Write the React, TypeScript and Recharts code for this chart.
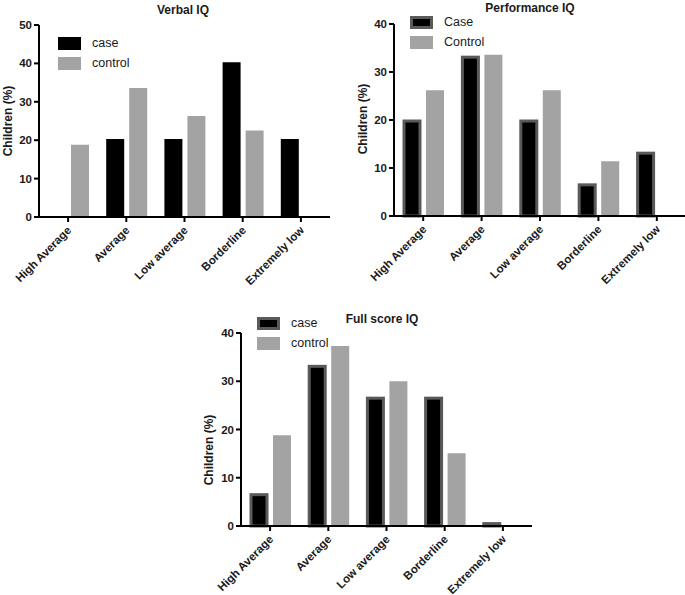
import React from 'react';
import { BarChart, Bar, XAxis, YAxis, Legend } from 'recharts';

const categories = ['High Average', 'Average', 'Low average', 'Borderline', 'Extremely low'];

const verbalCase = [0, 20.3, 20.3, 40.3, 20.3];
const verbalControl = [18.8, 33.6, 26.3, 22.5, 0];

const perfCase = [20, 33.3, 20, 6.7, 13.3];
const perfControl = [26.2, 33.6, 26.2, 11.4, 0];

const fullCase = [6.7, 33.3, 26.7, 26.7, 0.7];
const fullControl = [18.8, 37.3, 30, 15.1, 0];

const verbalTicks = [0, 10, 20, 30, 40, 50];
const perfTicks = [0, 10, 20, 30, 40];
const fullTicks = [0, 10, 20, 30, 40];

const FONT = '"Liberation Sans", Arial, Helvetica, sans-serif';
const CONTROL_COLOR = '#a3a3a3';
const CASE_STROKE = '#5a5a5a';

const build = (c: number[], k: number[]) =>
  categories.map((name, i) => ({ name, case: c[i], control: k[i] }));

const XTick = (props: any) => {
  const { x, y, payload } = props;
  const ax = x + 4;
  const ay = y + 7;
  return (
    <text
      x={ax}
      y={ay}
      textAnchor="end"
      transform={`rotate(-45 ${ax} ${ay})`}
      fontFamily={FONT}
      fontWeight="bold"
      fontSize={11.5}
      fill="#1a1a1a"
    >
      {payload.value}
    </text>
  );
};

const YTick = (props: any) => {
  const { x, y, payload } = props;
  return (
    <text
      x={x}
      y={y}
      dy={4}
      textAnchor="end"
      fontFamily={FONT}
      fontWeight="bold"
      fontSize={11.5}
      fill="#1a1a1a"
    >
      {payload.value}
    </text>
  );
};

const StrokedBar = (props: any) => {
  const { x, y, width, height } = props;
  if (!height || height <= 0) return null;
  return (
    <rect
      x={x + 1}
      y={y + 1}
      width={Math.max(width - 2, 0)}
      height={Math.max(height - 1, 0)}
      fill="#000"
      stroke={CASE_STROKE}
      strokeWidth={3}
    />
  );
};

const LegendBox = ({ labels, stroked }: { labels: [string, string]; stroked: boolean }) => (
  <div style={{ fontFamily: FONT, fontSize: 12.5, color: '#1a1a1a' }}>
    {labels.map((lab, i) => (
      <div key={lab} style={{ display: 'flex', alignItems: 'center', height: 20 }}>
        <div
          style={{
            width: i === 0 && stroked ? 17 : 23,
            height: i === 0 && stroked ? 7 : 13,
            background: i === 0 ? '#000' : CONTROL_COLOR,
            border: i === 0 && stroked ? `3px solid ${CASE_STROKE}` : 'none',
            marginRight: 11,
          }}
        />
        <span>{lab}</span>
      </div>
    ))}
  </div>
);

type ChartProps = {
  left: number;
  top: number;
  width: number;
  height: number;
  margin: { top: number; right: number; bottom: number; left: number };
  xHeight: number;
  yWidth: number;
  data: any[];
  ticks: number[];
  stroked: boolean;
  title: string;
  titleX: number;
  titleY: number;
  yLabelX: number;
  yLabelY: number;
  legendLeft: number;
  legendTop: number;
  labels: [string, string];
};

const IQChart = (p: ChartProps) => (
  <div style={{ position: 'absolute', left: p.left, top: p.top, width: p.width, height: p.height }}>
    <BarChart
      width={p.width}
      height={p.height}
      data={p.data}
      margin={p.margin}
      barSize={18}
      barGap={5}
    >
      <XAxis
        dataKey="name"
        height={p.xHeight}
        interval={0}
        tick={XTick}
        axisLine={{ stroke: '#000', strokeWidth: 2 }}
        tickLine={{ stroke: '#000', strokeWidth: 2 }}
        tickSize={5}
      />
      <YAxis
        width={p.yWidth}
        domain={[0, p.ticks[p.ticks.length - 1]]}
        ticks={p.ticks}
        interval={0}
        tick={YTick}
        axisLine={{ stroke: '#000', strokeWidth: 2 }}
        tickLine={{ stroke: '#000', strokeWidth: 2 }}
        tickSize={5}
      />
      <Legend
        layout="horizontal"
        verticalAlign="middle"
        align="center"
        wrapperStyle={{ left: p.legendLeft, top: p.legendTop, width: 'auto' }}
        content={() => <LegendBox labels={p.labels} stroked={p.stroked} />}
      />
      <Bar
        dataKey="case"
        fill="#000"
        isAnimationActive={false}
        shape={p.stroked ? StrokedBar : undefined}
      />
      <Bar dataKey="control" fill={CONTROL_COLOR} isAnimationActive={false} />
    </BarChart>
    <div
      style={{
        position: 'absolute',
        left: p.titleX - 100,
        top: p.titleY - 8,
        width: 200,
        textAlign: 'center',
        fontFamily: FONT,
        fontWeight: 'bold',
        fontSize: 12,
        lineHeight: '16px',
        color: '#1a1a1a',
      }}
    >
      {p.title}
    </div>
    <div
      style={{
        position: 'absolute',
        left: p.yLabelX - 60,
        top: p.yLabelY - 8,
        width: 120,
        height: 16,
        textAlign: 'center',
        fontFamily: FONT,
        fontWeight: 'bold',
        fontSize: 12,
        lineHeight: '16px',
        color: '#1a1a1a',
        transform: 'rotate(-90deg)',
      }}
    >
      Children (%)
    </div>
  </div>
);

export default function App() {
  return (
    <div
      style={{
        position: 'absolute',
        left: 0,
        top: 0,
        width: 685,
        height: 595,
        overflow: 'hidden',
        background: '#fff',
      }}
    >
      <IQChart
        left={0}
        top={0}
        width={340}
        height={300}
        margin={{ top: 25, right: 10, bottom: 8, left: 9 }}
        yWidth={30}
        xHeight={75}
        data={build(verbalCase, verbalControl)}
        ticks={verbalTicks}
        stroked={false}
        title="Verbal IQ"
        titleX={183}
        titleY={10}
        yLabelX={8}
        yLabelY={121}
        legendLeft={58}
        legendTop={33}
        labels={['case', 'control']}
      />
      <IQChart
        left={340}
        top={0}
        width={346}
        height={300}
        margin={{ top: 24, right: 0, bottom: 9, left: 24 }}
        yWidth={30}
        xHeight={75}
        data={build(perfCase, perfControl)}
        ticks={perfTicks}
        stroked={true}
        title="Performance IQ"
        titleX={190}
        titleY={8}
        yLabelX={23}
        yLabelY={119}
        legendLeft={70}
        legendTop={12}
        labels={['Case', 'Control']}
      />
      <IQChart
        left={200}
        top={290}
        width={340}
        height={305}
        margin={{ top: 43, right: 8, bottom: 0, left: 11 }}
        yWidth={30}
        xHeight={69}
        data={build(fullCase, fullControl)}
        ticks={fullTicks}
        stroked={true}
        title="Full score IQ"
        titleX={182}
        titleY={29}
        yLabelX={9}
        yLabelY={160}
        legendLeft={57}
        legendTop={23}
        labels={['case', 'control']}
      />
    </div>
  );
}
